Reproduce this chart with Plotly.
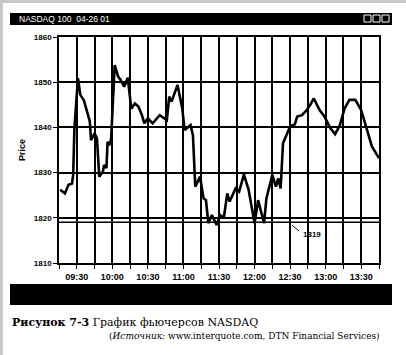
import plotly.graph_objects as go

# ---- data ----
times = ["09:16","09:20","09:23","09:26","09:27","09:28","09:31","09:33","09:36","09:41",
         "09:42","09:45","09:47","09:49","09:52","09:53","09:55","09:56","09:58","09:59",
         "10:02","10:05","10:07","10:10","10:13","10:16","10:19","10:22","10:25","10:27",
         "10:30","10:34","10:40","10:46","10:48","10:50","10:55","10:59","11:01","11:06",
         "11:08","11:10","11:14","11:17","11:19","11:21","11:24","11:28","11:31","11:34",
         "11:37","11:39","11:44","11:47","11:51","11:55","12:00","12:03","12:08","12:10",
         "12:15","12:18","12:20","12:22","12:24","12:27","12:30","12:34","12:36","12:40",
         "12:44","12:47","12:50","12:55","12:59","13:04","13:08","13:12","13:16","13:20",
         "13:25","13:30","13:35","13:39","13:45"]
prices = [1826.2,1825.4,1827.3,1827.6,1829.6,1839.8,1850.9,1847.2,1846.0,1841.3,
          1837.2,1838.7,1837.6,1829.1,1830.2,1831.7,1831.0,1836.8,1836.1,1837.6,
          1853.8,1851.2,1850.5,1849.0,1851.0,1844.1,1845.3,1844.6,1842.7,1840.9,
          1842.0,1840.9,1842.7,1841.6,1846.8,1845.7,1849.4,1844.2,1839.4,1840.5,
          1838.3,1826.9,1829.1,1824.3,1823.9,1818.8,1820.6,1818.4,1820.6,1819.9,
          1825.4,1823.6,1826.5,1825.8,1829.6,1826.2,1818.8,1823.9,1818.8,1824.3,
          1829.5,1826.9,1828.7,1826.5,1836.5,1838.3,1840.2,1840.7,1842.4,1842.7,
          1843.8,1845.0,1846.4,1843.8,1842.4,1839.8,1838.5,1840.5,1844.2,1846.1,
          1846.1,1843.8,1839.1,1835.8,1833.2]
support_level = 1819
date = "2001-04-26"
x_vals = [f"{date} {t}" for t in times]

header_text = "NASDAQ 100  04-26 01"
caption1_bold = "Рисунок 7-3"
caption1_rest = " График фьючерсов NASDAQ"
caption2_italic = "Источник:"
caption2_rest = " www.interquote.com, DTN Financial Services)"

# ---- layout helpers (pixel -> paper) ----
L, R, T, B = 59, 379, 37, 263
W, H = 406, 355
def px(x):
    return (x - L) / (R - L)
def py(y):
    return (B - y) / (B - T)

fig = go.Figure()
fig.add_trace(go.Scatter(x=x_vals, y=prices, mode="lines",
                         line=dict(color="black", width=2.6), hoverinfo="skip",
                         showlegend=False))

shapes = []
# support line at 1819
shapes.append(dict(type="line", xref="paper", yref="y", x0=0, x1=1,
                   y0=support_level, y1=support_level, line=dict(color="black", width=1.5)))
# annotation pointer
shapes.append(dict(type="line", xref="paper", yref="paper", x0=px(292), x1=px(299),
                   y0=py(225), y1=py(231), line=dict(color="black", width=1)))
# header bar
shapes.append(dict(type="rect", xref="paper", yref="paper", x0=px(10), x1=px(392),
                   y0=py(25), y1=py(13), fillcolor="black", line=dict(width=0), layer="above"))
for x0 in (364, 373, 382):
    shapes.append(dict(type="rect", xref="paper", yref="paper", x0=px(x0), x1=px(x0 + 7),
                       y0=py(22), y1=py(15), fillcolor="rgba(0,0,0,0)",
                       line=dict(color="white", width=1), layer="above"))
# footer bar
shapes.append(dict(type="rect", xref="paper", yref="paper", x0=px(10), x1=px(392),
                   y0=py(305), y1=py(284), fillcolor="black", line=dict(width=0)))
# scan border strips
shapes.append(dict(type="rect", xref="paper", yref="paper", x0=px(0), x1=px(3),
                   y0=py(W), y1=py(0), fillcolor="#c8c8c8", line=dict(width=0)))
shapes.append(dict(type="rect", xref="paper", yref="paper", x0=px(0), x1=px(W),
                   y0=py(3), y1=py(0), fillcolor="#c8c8c8", line=dict(width=0)))

annotations = []
annotations.append(dict(text=header_text, xref="paper", yref="paper", x=px(17), y=py(19),
                        xanchor="left", yanchor="middle", showarrow=False,
                        font=dict(family="Liberation Sans", size=8.5, color="white")))
annotations.append(dict(text="<b>" + str(support_level) + "</b>", xref="paper", yref="paper",
                        x=px(301), y=py(234), xanchor="left", yanchor="middle", showarrow=False,
                        font=dict(family="Liberation Sans", size=8, color="black")))
annotations.append(dict(text="<b>Price</b>", xref="paper", yref="paper", x=px(22), y=py(150),
                        textangle=-90, xanchor="center", yanchor="middle", showarrow=False,
                        font=dict(family="Liberation Sans", size=9, color="black")))
annotations.append(dict(text="<b>" + caption1_bold + "</b>" + caption1_rest,
                        xref="paper", yref="paper", x=px(10), y=py(322),
                        xanchor="left", yanchor="middle", showarrow=False,
                        font=dict(family="DejaVu Serif", size=11, color="black")))
annotations.append(dict(text="(<i>" + caption2_italic + "</i>" + caption2_rest,
                        xref="paper", yref="paper", x=px(107), y=py(336),
                        xanchor="left", yanchor="middle", showarrow=False,
                        font=dict(family="DejaVu Serif", size=9, color="black")))

fig.update_layout(
    width=W, height=H,
    margin=dict(l=L, r=W - R, t=T, b=H - B),
    paper_bgcolor="white", plot_bgcolor="white",
    shapes=shapes, annotations=annotations, showlegend=False,
    xaxis=dict(type="date", range=[f"{date} 09:15", f"{date} 13:45"],
               tick0=f"{date} 09:30", dtick=30 * 60 * 1000, tickformat="%H:%M",
               showgrid=True, gridcolor="black", gridwidth=1.5,
               showline=True, linecolor="black", linewidth=1.5, mirror=True,
               ticks="outside", ticklen=4, tickcolor="black",
               tickfont=dict(family="Liberation Sans", size=9, color="black", weight="bold"),
               minor=dict(dtick=15 * 60 * 1000, tick0=f"{date} 09:15", showgrid=True,
                          gridcolor="black", gridwidth=1.5, ticks="outside", ticklen=4,
                          tickcolor="black"),
               zeroline=False, fixedrange=True),
    yaxis=dict(range=[1810, 1860], dtick=10, tick0=1810,
               showgrid=True, gridcolor="black", gridwidth=1.5,
               showline=True, linecolor="black", linewidth=1.5, mirror=True,
               ticks="outside", ticklen=4, tickcolor="black",
               tickfont=dict(family="Liberation Sans", size=8, color="black", weight="bold"),
               zeroline=False, fixedrange=True),
)

fig.write_html("out.html", config={"displayModeBar": False})
